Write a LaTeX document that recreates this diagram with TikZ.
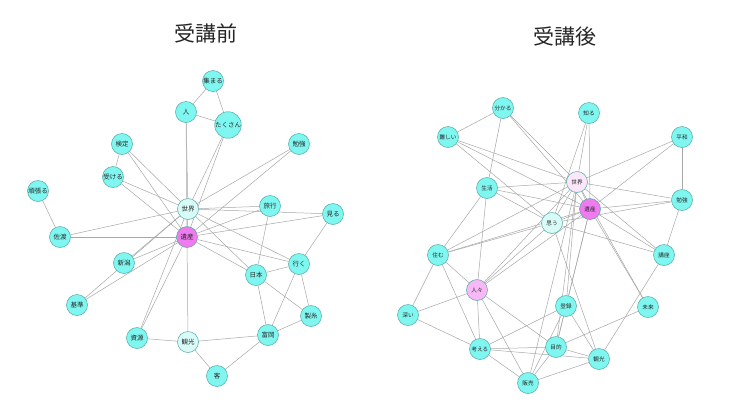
\documentclass[tikz,border=0pt]{standalone}
\usepackage{fontspec}
\newfontfamily\jp{Noto Sans CJK JP}
\usetikzlibrary{backgrounds}
\definecolor{cyanfill}{HTML}{7FF7F0}
\definecolor{lcyanfill}{HTML}{D8FBF8}
\definecolor{magfill}{HTML}{F07AF0}
\definecolor{pinkfill}{HTML}{F8B8F6}
\definecolor{lpinkfill}{HTML}{FBE6FA}
\definecolor{nodeedge}{HTML}{4FA8A4}
\definecolor{linkc}{HTML}{A8A8A8}
\tikzset{
  gnode/.style={circle,draw=nodeedge,line width=0.5pt,minimum size=21pt,inner sep=0pt,text=black!85,font=\jp\fontsize{6.5}{7}\selectfont},
  rnode/.style={gnode,font=\jp\fontsize{5.6}{6}\selectfont},
  cn/.style={gnode,fill=cyanfill},
  lc/.style={gnode,fill=lcyanfill},
  mg/.style={gnode,fill=magfill},
  rcn/.style={rnode,fill=cyanfill},
  rlc/.style={rnode,fill=lcyanfill},
  rmg/.style={rnode,fill=magfill},
  rpk/.style={rnode,fill=pinkfill},
  rlp/.style={rnode,fill=lpinkfill},
  link/.style={draw=linkc,line width=0.5pt},
  ttl/.style={font=\jp\fontsize{21}{24}\selectfont,text=black!85}
}
\begin{document}
\begin{tikzpicture}[x=1pt,y=-1pt]
\useasboundingbox (0,0) rectangle (740,416);
% titles
\node[ttl] (t1) at (206,33) {受講前};
\node[ttl] (t2) at (565,37) {受講後};
% ---- left graph
\node[cn] (Latsumaru) at (213,81) {集まる};
\node[cn] (Lhito) at (186,112) {人};
\node[cn] (Ltakusan) at (228,125) {たくさん};
\node[cn] (Lkentei) at (122,144) {検定};
\node[cn] (Lbenkyo) at (299,144) {勉強};
\node[cn] (Lukeru) at (113,177) {受ける};
\node[cn] (Lganbaru) at (38,191) {頑張る};
\node[lc] (Lsekai) at (188,209) {世界};
\node[cn] (Lryoko) at (270,206) {旅行};
\node[cn] (Lmiru) at (333,214) {見る};
\node[cn] (Lsado) at (60,237) {佐渡};
\node[mg] (Lisan) at (187,237) {遺産};
\node[cn] (Lniigata) at (124,263) {新潟};
\node[cn] (Lnihon) at (256,275) {日本};
\node[cn] (Liku) at (299,264) {行く};
\node[cn] (Lkijun) at (77,305) {基準};
\node[cn] (Lseishi) at (311,316) {製糸};
\node[cn] (Lshigen) at (137,338) {資源};
\node[lc] (Lkanko) at (188,342) {観光};
\node[cn] (Ltomioka) at (268,335) {富岡};
\node[cn] (Lkyaku) at (217,376) {客};
% ---- right graph
\node[rcn] (Rwakaru) at (503,108) {分かる};
\node[rcn] (Rshiru) at (589,113) {知る};
\node[rcn] (Rmuzukashii) at (448,137) {難しい};
\node[rcn] (Rheiwa) at (682,137) {平和};
\node[rlp] (Rsekai) at (577,182) {世界};
\node[rcn] (Rseikatsu) at (487,188) {生活};
\node[rcn] (Rbenkyo) at (682,200) {勉強};
\node[rmg] (Risan) at (590,209) {遺産};
\node[rlc] (Romou) at (552,223) {思う};
\node[rcn] (Rsumu) at (438,255) {住む};
\node[rcn] (Rkoza) at (664,255) {講座};
\node[rpk] (Rhitobito) at (477,290) {人々};
\node[rcn] (Rtouroku) at (566,306) {登録};
\node[rcn] (Rmirai) at (648,307) {未来};
\node[rcn] (Rfukai) at (408,315) {深い};
\node[rcn] (Rmokuteki) at (556,347) {目的};
\node[rcn] (Rkangaeru) at (480,349) {考える};
\node[rcn] (Rkanko) at (599,359) {観光};
\node[rcn] (Rhanbai) at (528,383) {販売};
\begin{scope}[on background layer]
\fill[white] (0,0) rectangle (740,416);
% left edges
\foreach \a/\b in {atsumaru/hito,atsumaru/takusan,hito/takusan,hito/sekai,hito/isan,
  takusan/sekai,takusan/isan,benkyo/sekai,benkyo/isan,kentei/ukeru,kentei/sekai,kentei/isan,
  ukeru/sekai,ukeru/isan,ganbaru/sado,sado/sekai,sado/isan,sekai/isan,sekai/ryoko,sekai/miru,
  sekai/nihon,sekai/iku,isan/ryoko,isan/miru,isan/nihon,isan/iku,ryoko/nihon,miru/iku,
  nihon/iku,nihon/tomioka,nihon/seishi,iku/seishi,iku/tomioka,seishi/tomioka,tomioka/kanko,
  tomioka/kyaku,kanko/kyaku,kanko/shigen,kanko/isan,shigen/isan,shigen/sekai,niigata/isan,
  niigata/sekai,kijun/isan,kijun/sekai}
  \draw[link] (L\a) -- (L\b);
% right edges
\foreach \a/\b in {wakaru/muzukashii,wakaru/seikatsu,wakaru/sekai,wakaru/isan,
  muzukashii/sekai,muzukashii/isan,muzukashii/omou,
  shiru/sekai,shiru/isan,shiru/omou,
  heiwa/sekai,heiwa/isan,heiwa/benkyo,
  benkyo/sekai,benkyo/isan,benkyo/omou,benkyo/koza,
  seikatsu/sekai,seikatsu/isan,seikatsu/omou,seikatsu/sumu,seikatsu/hitobito,
  sumu/sekai,sumu/isan,sumu/omou,sumu/hitobito,sumu/fukai,sumu/kangaeru,
  hitobito/sekai,hitobito/isan,hitobito/omou,hitobito/fukai,hitobito/mokuteki,
  hitobito/hanbai,hitobito/kangaeru,
  fukai/kangaeru,kangaeru/mokuteki,kangaeru/kanko,kangaeru/hanbai,kangaeru/touroku,
  hanbai/mokuteki,hanbai/touroku,hanbai/kanko,hanbai/sekai,
  mokuteki/touroku,mokuteki/mirai,mokuteki/kanko,mokuteki/sekai,mokuteki/isan,
  touroku/sekai,touroku/isan,touroku/kanko,
  kanko/omou,kanko/koza,
  koza/sekai,koza/isan,koza/omou,
  mirai/sekai,mirai/isan,
  omou/sekai,omou/isan,sekai/isan}
  \draw[link] (R\a) -- (R\b);
\end{scope}
\end{tikzpicture}
\end{document}
